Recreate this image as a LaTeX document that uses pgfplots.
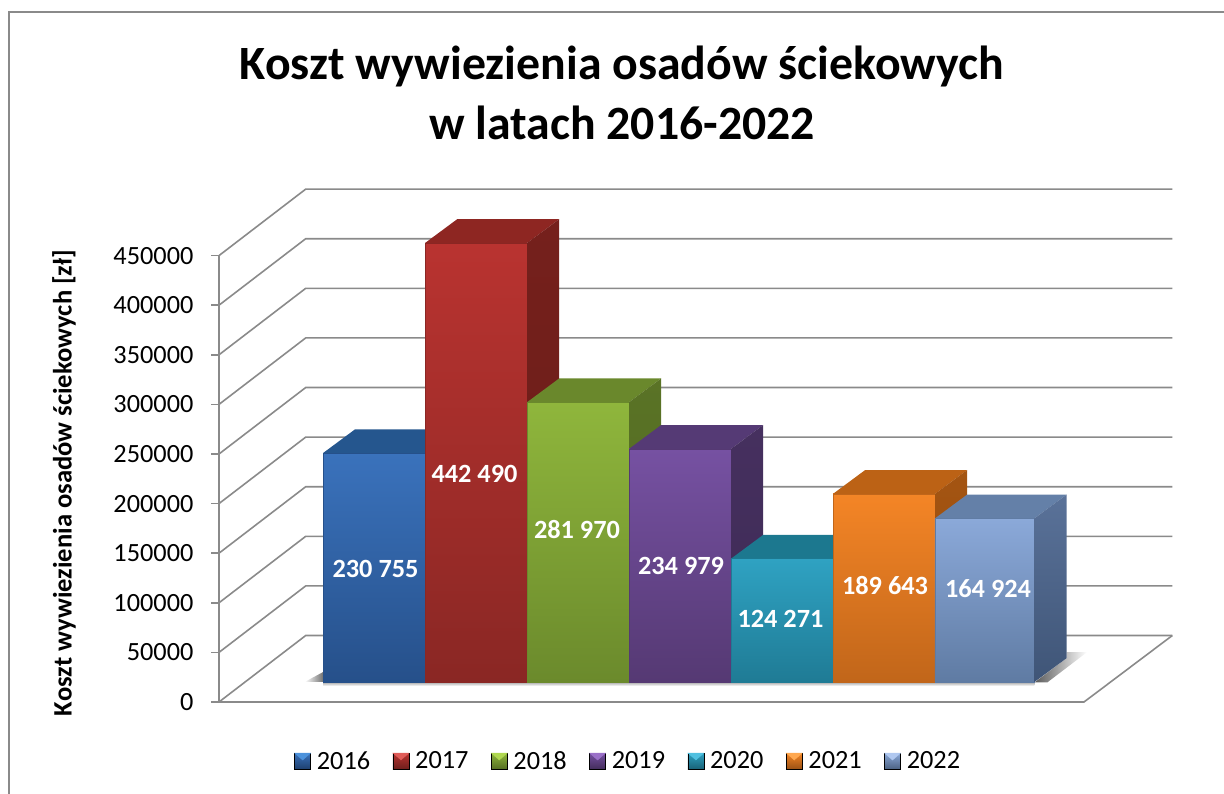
\documentclass[border=0pt]{standalone}
\usepackage{pgfplots}
\pgfplotsset{compat=1.18}
\usepackage{fontspec}
\setmainfont{Carlito}
\definecolor{gridc}{HTML}{8A8A8A}
% front top, front bottom, top face, side top, side bottom, legend light
\definecolor{aF}{HTML}{3A72BC}\definecolor{aB}{HTML}{26508A}\definecolor{aT}{HTML}{25568E}\definecolor{aS}{HTML}{204A7A}\definecolor{aL}{HTML}{4C92DC}
\definecolor{bF}{HTML}{B93330}\definecolor{bB}{HTML}{8A2724}\definecolor{bT}{HTML}{8E2622}\definecolor{bS}{HTML}{75201C}\definecolor{bL}{HTML}{E05C58}
\definecolor{cF}{HTML}{8FB63C}\definecolor{cB}{HTML}{6B8A2C}\definecolor{cT}{HTML}{6A882C}\definecolor{cS}{HTML}{5A7326}\definecolor{cL}{HTML}{B0D850}
\definecolor{dF}{HTML}{7651A2}\definecolor{dB}{HTML}{553973}\definecolor{dT}{HTML}{553A75}\definecolor{dS}{HTML}{46305F}\definecolor{dL}{HTML}{9A70C8}
\definecolor{eF}{HTML}{2FA2C2}\definecolor{eB}{HTML}{1F7B95}\definecolor{eT}{HTML}{1C788F}\definecolor{eS}{HTML}{186478}\definecolor{eL}{HTML}{50C0E0}
\definecolor{fF}{HTML}{F48526}\definecolor{fB}{HTML}{C1661A}\definecolor{fT}{HTML}{BC6215}\definecolor{fS}{HTML}{A45512}\definecolor{fL}{HTML}{FFA850}
\definecolor{gF}{HTML}{8BA9D9}\definecolor{gB}{HTML}{5F7BA3}\definecolor{gT}{HTML}{6480A8}\definecolor{gS}{HTML}{5A7299}\definecolor{gE}{HTML}{3F5577}\definecolor{gL}{HTML}{B0C8F0}
\definecolor{aE}{HTML}{1C3F68}\definecolor{bE}{HTML}{6A1C18}\definecolor{cE}{HTML}{4F661F}\definecolor{dE}{HTML}{3D2A55}\definecolor{eE}{HTML}{13566A}\definecolor{fE}{HTML}{95490E}
\newcommand{\legcube}[1]{\addlegendimage{legend image code/.code={%
  \shade[top color=#1F,bottom color=#1B!80!black] (0pt,-8pt) rectangle (16pt,8pt);
  \fill[#1L] (0pt,8pt)--(16pt,8pt)--(8pt,1pt)--cycle;}}}
\begin{document}
\begin{tikzpicture}[x=1pt,y=1pt,wall/.style={gridc,line width=1.6pt,no markers}]
\path[use as bounding box] (0,0) rectangle (1224,794);
\draw[gridc,line width=1.5pt] (9,0)--(9,782)--(1224,782);
\node[align=center,font=\fontsize{47.8}{60.5}\selectfont\bfseries,text=black] at (622,701) {Koszt wywiezienia osadów ściekowych\\w latach 2016-2022};
\node[rotate=90,font=\fontsize{26.6}{30}\selectfont\bfseries,text=black] at (64,311) {Koszt wywiezienia osadów ściekowych [zł]};

% walls and value axis
\begin{axis}[at={(219pt,92pt)},anchor=south west,scale only axis,width=953.3pt,height=446.4pt,
  xmin=0,xmax=953.3,ymin=0,ymax=450000,clip=false,
  axis x line=none,axis y line*=left,
  ytick={0,50000,100000,150000,200000,250000,300000,350000,400000,450000},
  scaled y ticks=false,
  /pgf/number format/fixed,
  /pgf/number format/assume math mode=true,
  /pgf/number format/1000 sep={},
  yticklabel style={font=\fontsize{26.3}{30}\selectfont,text=black,xshift=-14pt},
  tick align=outside,major tick length=8pt,
  y axis line style={gridc,line width=1.6pt,-},
  ytick style={gridc,line width=1.6pt}]
\addplot[wall] coordinates {(0,0) (865,0) (953.3,67000)};
\addplot[wall] coordinates {(0,0) (86.7,67000) (953.3,67000)};
\addplot[wall] coordinates {(0,50000) (86.7,117000) (953.3,117000)};
\addplot[wall] coordinates {(0,100000) (86.7,167000) (953.3,167000)};
\addplot[wall] coordinates {(0,150000) (86.7,217000) (953.3,217000)};
\addplot[wall] coordinates {(0,200000) (86.7,267000) (953.3,267000)};
\addplot[wall] coordinates {(0,250000) (86.7,317000) (953.3,317000)};
\addplot[wall] coordinates {(0,300000) (86.7,367000) (953.3,367000)};
\addplot[wall] coordinates {(0,350000) (86.7,417000) (953.3,417000)};
\addplot[wall] coordinates {(0,400000) (86.7,467000) (953.3,467000)};
\addplot[wall] coordinates {(0,450000) (86.7,517000) (953.3,517000)};
\end{axis}

% bars
\begin{axis}[at={(323pt,112pt)},anchor=south west,scale only axis,width=714pt,height=446.4pt,
  xmin=-0.5,xmax=6.5,ymin=0,ymax=450000,clip=false,hide axis,
  every axis plot/.append style={forget plot,no markers},
  legend style={draw=none,fill=none,at={(-0.040,-0.177)},anchor=west,legend columns=7,
    font=\fontsize{26.3}{30}\selectfont,inner sep=0pt,outer sep=0pt,
    /tikz/every even column/.append style={column sep=20.6pt},
    /tikz/every odd column/.append style={column sep=4pt}}]
\legcube{a}\legcube{b}\legcube{c}\legcube{d}\legcube{e}\legcube{f}\legcube{g}

% shadows on the floor
\addplot[draw=none,left color=white,right color=black!55] coordinates {(-0.68,0) (-0.5,0) (-0.5,10000)};
\addplot[draw=none,top color=black!35,bottom color=white] coordinates {(-0.5,0) (6.475,0) (6.475,-4000) (-0.5,-4000)};
\addplot[draw=none,left color=black!65,right color=white] coordinates {(6.475,-500) (6.79,24000) (6.79,30000) (6.99,30000) (6.6,-500)};

% 2016
\addplot[ybar,bar shift=0pt,bar width=102pt,top color=aF,bottom color=aB,draw=aB,line width=.7pt] coordinates {(0,230755)};
\addplot[fill=aT,draw=none] coordinates {(-0.5,230755) (0.5,230755) (0.815,254755) (-0.185,254755)};
\addplot[draw=none,top color=aS,bottom color=aE] coordinates {(0.5,0) (0.5,230755) (0.815,254755) (0.815,24000)};
% 2017
\addplot[ybar,bar shift=0pt,bar width=102pt,top color=bF,bottom color=bB,draw=bB,line width=.7pt] coordinates {(1,442490)};
\addplot[fill=bT,draw=none] coordinates {(0.5,442490) (1.5,442490) (1.815,466490) (0.815,466490)};
\addplot[draw=none,top color=bS,bottom color=bE] coordinates {(1.5,0) (1.5,442490) (1.815,466490) (1.815,24000)};
% 2018
\addplot[ybar,bar shift=0pt,bar width=102pt,top color=cF,bottom color=cB,draw=cB,line width=.7pt] coordinates {(2,281970)};
\addplot[fill=cT,draw=none] coordinates {(1.5,281970) (2.5,281970) (2.815,305970) (1.815,305970)};
\addplot[draw=none,top color=cS,bottom color=cE] coordinates {(2.5,0) (2.5,281970) (2.815,305970) (2.815,24000)};
% 2019
\addplot[ybar,bar shift=0pt,bar width=102pt,top color=dF,bottom color=dB,draw=dB,line width=.7pt] coordinates {(3,234979)};
\addplot[fill=dT,draw=none] coordinates {(2.5,234979) (3.5,234979) (3.815,258979) (2.815,258979)};
\addplot[draw=none,top color=dS,bottom color=dE] coordinates {(3.5,0) (3.5,234979) (3.815,258979) (3.815,24000)};
% 2020
\addplot[ybar,bar shift=0pt,bar width=102pt,top color=eF,bottom color=eB,draw=eB,line width=.7pt] coordinates {(4,124271)};
\addplot[fill=eT,draw=none] coordinates {(3.5,124271) (4.5,124271) (4.815,148271) (3.815,148271)};
\addplot[draw=none,top color=eS,bottom color=eE] coordinates {(4.5,0) (4.5,124271) (4.815,148271) (4.815,24000)};
% 2021
\addplot[ybar,bar shift=0pt,bar width=102pt,top color=fF,bottom color=fB,draw=fB,line width=.7pt] coordinates {(5,189643)};
\addplot[fill=fT,draw=none] coordinates {(4.5,189643) (5.5,189643) (5.815,213643) (4.815,213643)};
\addplot[draw=none,top color=fS,bottom color=fE] coordinates {(5.5,0) (5.5,189643) (5.815,213643) (5.815,24000)};
% 2022
\addplot[ybar,bar shift=0pt,bar width=99.5pt,top color=gF,bottom color=gB,draw=gB,line width=.7pt] coordinates {(5.987,164924)};
\addplot[fill=gT,draw=none] coordinates {(5.5,164924) (6.475,164924) (6.79,188924) (5.815,188924)};
\addplot[draw=none,top color=gS,bottom color=gE] coordinates {(6.475,0) (6.475,164924) (6.79,188924) (6.79,24000)};

\legend{2016,2017,2018,2019,2020,2021,2022}

\tikzset{lab/.style={text=white,font=\fontsize{26.3}{30}\selectfont\bfseries}}
\node[lab] at (axis cs:0.015,113900) {230 755};
\node[lab] at (axis cs:0.985,209700) {442 490};
\node[lab] at (axis cs:1.99,154200) {281 970};
\node[lab] at (axis cs:3.01,116900) {234 979};
\node[lab] at (axis cs:3.985,63500) {124 271};
\node[lab] at (axis cs:5.01,96800) {189 643};
\node[lab] at (axis cs:6.02,93750) {164 924};
\end{axis}
\end{tikzpicture}
\end{document}
